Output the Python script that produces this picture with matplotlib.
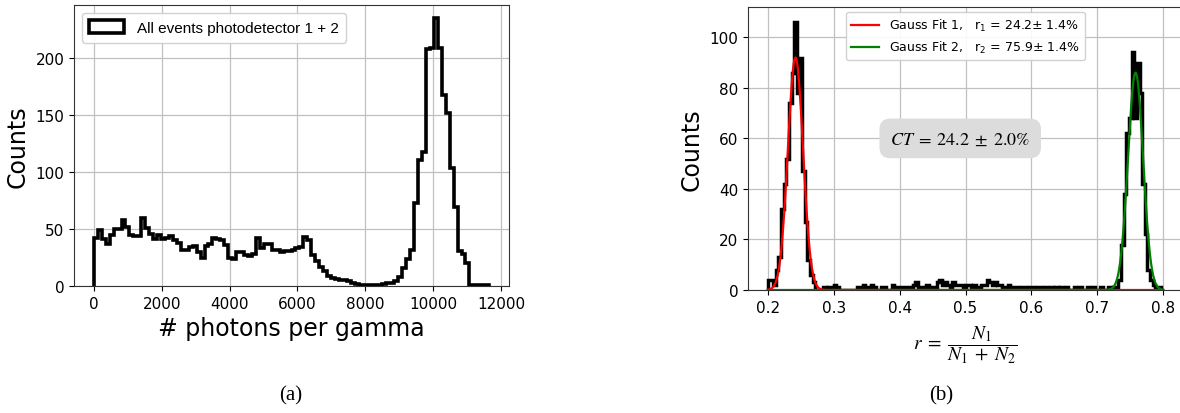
import numpy as np
import matplotlib
matplotlib.use('Agg')
import matplotlib.pyplot as plt

# (a) photons per gamma, 100 bins from 0 to 11650
photon_edges = np.linspace(0, 11650, 101)
photon_counts = [
    42, 49, 41, 37, 45, 50, 50, 58, 52, 45,
    44, 44, 60, 51, 46, 41, 45, 41, 42, 44,
    40, 38, 32, 32, 34, 35, 30, 25, 35, 37,
    42, 41, 40, 36, 25, 24, 30, 30, 27, 26,
    28, 42, 33, 37, 37, 32, 32, 30, 31, 31,
    32, 33, 34, 43, 40, 27, 22, 17, 13, 9,
    7, 6, 5, 5, 4, 3, 2, 1, 1, 1,
    1, 1, 1, 2, 3, 3, 4, 8, 16, 24,
    32, 73, 111, 118, 208, 209, 236, 209, 168, 152,
    104, 69, 31, 28, 20, 1, 1, 1, 1, 1,
]

# (b) ratio r = N1/(N1+N2), 150 bins from 0.2 to 0.8
ratio_edges = np.linspace(0.2, 0.8, 151)
ratio_counts = [
    4, 4, 2, 8, 13, 32, 42, 52, 74, 86,
    106, 78, 92, 47, 27, 12, 6, 3, 0, 0,
    0, 1, 0, 1, 0, 2, 1, 0, 0, 0,
    0, 0, 0, 0, 1, 1, 2, 0, 1, 2,
    1, 0, 0, 1, 1, 0, 0, 2, 1, 1,
    1, 1, 1, 1, 0, 2, 3, 1, 1, 1,
    2, 1, 1, 1, 3, 4, 2, 3, 2, 1,
    3, 2, 2, 2, 1, 2, 2, 1, 2, 1,
    1, 2, 2, 4, 3, 2, 3, 2, 2, 1,
    1, 2, 1, 1, 1, 0, 1, 1, 0, 1,
    1, 0, 1, 1, 0, 1, 0, 1, 0, 1,
    0, 1, 0, 1, 0, 0, 1, 0, 1, 0,
    0, 1, 0, 1, 0, 0, 1, 0, 0, 1,
    0, 1, 1, 4, 18, 38, 62, 68, 94, 68,
    90, 78, 42, 22, 8, 4, 2, 0, 1, 0,
]

# gauss fit parameters (amplitude, mean, sigma)
fit1_amp, fit1_mean, fit1_sigma = 92, 0.242, 0.0115
fit2_amp, fit2_mean, fit2_sigma = 86, 0.758, 0.0115
fit1_label = 'Gauss Fit 1,   r$_1$ = 24.2± 1.4%'
fit2_label = 'Gauss Fit 2,   r$_2$ = 75.9± 1.4%'

fig = plt.figure(figsize=(11.8, 4.14), dpi=100)

# ---- left panel ----
ax1 = fig.add_axes([0.0627, 0.3068, 0.3687, 0.6787])
ax1.hist(photon_edges[:-1], bins=photon_edges, weights=photon_counts,
         histtype='step', color='black', linewidth=2.6,
         label='All events photodetector 1 + 2')
ax1.set_xlim(-585, 12235)
ax1.set_ylim(0, 247)
ax1.set_xticks(range(0, 12001, 2000))
ax1.set_yticks(range(0, 201, 50))
ax1.grid(True, color='#c0c0c0', linewidth=0.9)
ax1.set_axisbelow(True)
ax1.tick_params(labelsize=11)
ax1.set_xlabel('# photons per gamma', fontsize=17)
ax1.set_ylabel('Counts', fontsize=17)
for s in ax1.spines.values():
    s.set_color('#333333')
ax1.legend(loc='upper left', prop={'family': 'Liberation Sans', 'size': 11},
           handlelength=2.3, handleheight=0.9, edgecolor='#cccccc',
           framealpha=0.9, borderaxespad=0.5, borderpad=0.5)

# ---- right panel ----
ax2 = fig.add_axes([0.6339, 0.2971, 1183 / 1180 - 0.6339, 0.6836])
ax2.hist(ratio_edges[:-1], bins=ratio_edges, weights=ratio_counts,
         histtype='step', color='black', linewidth=2.5)
x = np.linspace(0.2, 0.8, 1200)
ax2.plot(x, fit1_amp * np.exp(-0.5 * ((x - fit1_mean) / fit1_sigma) ** 2),
         color='red', linewidth=1.6, label=fit1_label)
ax2.plot(x, fit2_amp * np.exp(-0.5 * ((x - fit2_mean) / fit2_sigma) ** 2),
         color='green', linewidth=1.6, label=fit2_label)
ax2.set_xlim(0.17, 0.83)
ax2.set_ylim(0, 112)
ax2.set_xticks([0.2, 0.3, 0.4, 0.5, 0.6, 0.7, 0.8])
ax2.set_yticks(range(0, 101, 20))
ax2.grid(True, color='#c0c0c0', linewidth=0.9)
ax2.set_axisbelow(True)
ax2.tick_params(labelsize=11)
ax2.set_ylabel('Counts', fontsize=17)
ax2.set_xlabel(r'$r\;=\;\dfrac{N_1}{N_1\;+\;N_2}$', fontsize=14,
               math_fontfamily='stix', labelpad=6)
for s in ax2.spines.values():
    s.set_color('#333333')
ax2.legend(loc='upper center', fontsize=9, handlelength=2.2,
           edgecolor='#cccccc', framealpha=0.9, borderaxespad=0.4)
ax2.text(0.492, 60, r'$CT\;=\;24.2\;\pm\;2.0\%$', ha='center', va='center',
         fontsize=13, math_fontfamily='stix',
         bbox=dict(boxstyle='round,pad=0.6', fc='#dcdcdc', ec='none'))

# captions
fig.text(0.246, 0.045, '(a)', ha='center', va='center',
         family='Liberation Serif', fontsize=15)
fig.text(0.798, 0.045, '(b)', ha='center', va='center',
         family='Liberation Serif', fontsize=15)

fig.savefig('out.png', dpi=100)
